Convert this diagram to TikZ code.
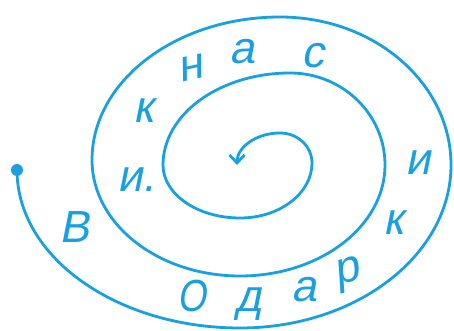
\documentclass[tikz,border=0pt]{standalone}
\usepackage{fontspec}
\setmainfont{Liberation Sans}
\newfontfamily\slantsans[FakeSlant=0.2]{Liberation Sans}
\usetikzlibrary{arrows.meta}
\definecolor{spiralblue}{RGB}{25,160,225}
\begin{document}
\begin{tikzpicture}[x=1pt,y=1pt,
    coil/.style={spiralblue, line width=2.8pt},
    letter/.style={spiralblue, anchor=base, inner sep=0pt,
      font=\fontsize{45}{50}\selectfont\slantsans}]
    \useasboundingbox (0,0) rectangle (454,331);
    % Spirale von aussen nach innen, je ein Viertelbogen
    \fill[spiralblue] (17,161) circle (6);
    \draw[coil, -{Straight Barb[length=8pt,width=15pt]}] (17,161)
        arc[start angle=180, end angle=270, x radius=223pt, y radius=158pt]
        arc[start angle=270, end angle=360, x radius=211pt, y radius=163pt]
        arc[start angle=0,   end angle=90,  x radius=171pt, y radius=148pt]
        arc[start angle=90,  end angle=180, x radius=188pt, y radius=143pt]
        arc[start angle=180, end angle=270, x radius=148pt, y radius=116pt]
        arc[start angle=270, end angle=360, x radius=145pt, y radius=111pt]
        arc[start angle=0,   end angle=90,  x radius=95pt,  y radius=92pt]
        arc[start angle=90,  end angle=180, x radius=127pt, y radius=92pt]
        arc[start angle=180, end angle=270, x radius=77pt,  y radius=53pt]
        arc[start angle=270, end angle=360, x radius=72pt,  y radius=55pt]
        arc[start angle=0,   end angle=90,  x radius=32pt,  y radius=30pt]
        arc[start angle=90,  end angle=180, x radius=43pt,  y radius=32pt];
    % Buchstaben entlang der Spirale
    \node[letter] (b1) at (75,88) {В};
    \node[letter, xscale=0.82, transform shape] (o1) at (192,19) {О};
    \node[letter] (d1) at (249,19) {д};
    \node[letter] (a1) at (304,29) {а};
    \node[letter, rotate=15] (r1) at (350,49) {р};
    \node[letter] (k1) at (393,96) {к};
    \node[letter] (i1) at (418,156) {и};
    \node[letter] (s1) at (313,263) {с};
    \node[letter] (a2) at (242,267) {а};
    \node[letter, rotate=12] (n1) at (193,251) {н};
    \node[letter] (k2) at (143,208) {к};
    \node[letter] (i2) at (136,139) {и.};
\end{tikzpicture}
\end{document}
